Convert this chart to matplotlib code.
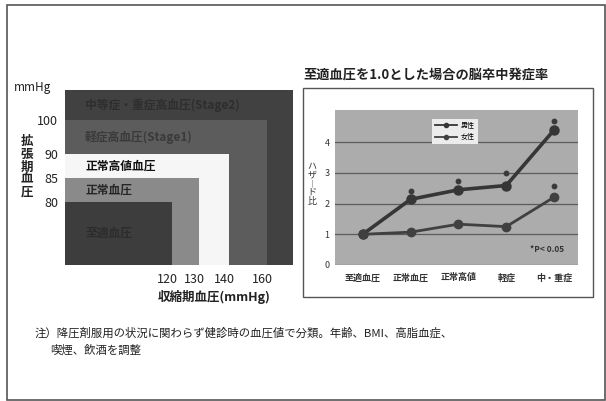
import matplotlib
matplotlib.use('Agg')
import matplotlib.pyplot as plt
from matplotlib.patches import Rectangle
from matplotlib.transforms import ScaledTranslation
import numpy as np

plt.rcParams['font.family'] = ['Noto Sans CJK JP', 'DejaVu Sans']

# ---------------- data: left panel (BP classification) ----------------
band_labels = ['至適血圧', '正常血圧', '正常高値血圧', '軽症高血圧(Stage1)', '中等症・重症高血圧(Stage2)']
sbp_upper = [120, 130, 140, 160]   # systolic upper limit of bands 1-4
dbp_upper = [80, 85, 90, 100]      # diastolic upper limit of bands 1-4
sbp_ticks = [120, 130, 140, 160]
dbp_ticks = [80, 85, 90, 100]

# ---------------- data: right panel (hazard ratios) ----------------
categories = ['至適血圧', '正常血圧', '正常高値', '軽症', '中・重症']
male_hr = [1.0, 2.14, 2.45, 2.59, 4.40]
female_hr = [1.0, 1.07, 1.33, 1.25, 2.21]
male_sig = [np.nan, 2.42, 2.75, 3.00, 4.69]
female_sig = [np.nan, np.nan, np.nan, np.nan, 2.59]
hr_ticks = [0, 1, 2, 3, 4]
series_names = ['男性', '女性']

W, H = 606, 401
fig = plt.figure(figsize=(W / 100, H / 100), dpi=100)
fig.patch.set_facecolor('white')

def fx(px):
    return px / W

def fy(py):
    return 1 - py / H

# outer frame
fig.add_artist(Rectangle((fx(7), fy(400)), fx(598), 395 / H, transform=fig.transFigure,
                         fill=False, edgecolor='#555555', lw=1.2, zorder=-2))

# ---------------- left panel ----------------
axL = fig.add_axes([fx(65), fy(265), fx(228), 175 / H])
xmin, xmax = 75, 170.5
ymin, ymax = 64, 106.8
# schematic (non-proportional) axes of the original diagram
sx_knots_v = np.array([xmin, 120, 130, 140, 160, xmax])
sx_knots_p = np.array([0, 107, 134, 164, 202, 228]) / 228
sy_knots_v = np.array([ymin, 80, 85, 90, 100, ymax])
sy_knots_p = np.array([0, 63, 87, 111, 145, 175]) / 175
axL.set_xscale('function', functions=(lambda v: np.interp(v, sx_knots_v, sx_knots_p, left=-1, right=2),
                                      lambda p: np.interp(p, sx_knots_p, sx_knots_v)))
axL.set_yscale('function', functions=(lambda v: np.interp(v, sy_knots_v, sy_knots_p, left=-1, right=2),
                                      lambda p: np.interp(p, sy_knots_p, sy_knots_v)))
axL.set_xlim(xmin, xmax)
axL.set_ylim(ymin, ymax)
band_colors = ['#3d3d3d', '#8a8a8a', '#f6f6f6', '#5c5c5c']
outer_color = '#414141'
axL.set_facecolor(outer_color)
for i in range(len(sbp_upper) - 1, -1, -1):
    axL.add_patch(Rectangle((xmin, ymin), sbp_upper[i] - xmin, dbp_upper[i] - ymin,
                            facecolor=band_colors[i], edgecolor='none'))
text_colors = ['#2c2c2c', '#262626', '#111111', '#3a3a3a', '#2e2e2e']
lower_edges = [ymin] + dbp_upper
upper_edges = dbp_upper + [ymax]
for i, lab in enumerate(band_labels):
    p = (np.interp(lower_edges[i], sy_knots_v, sy_knots_p) + np.interp(upper_edges[i], sy_knots_v, sy_knots_p)) / 2
    axL.text(0.088, p, lab, transform=axL.transAxes, ha='left', va='center',
             fontsize=8.5, fontweight='bold', color=text_colors[i])
for s in axL.spines.values():
    s.set_visible(False)
axL.set_xticks(sbp_ticks)
axL.set_xticklabels([str(v) for v in sbp_ticks])
axL.set_yticks(dbp_ticks)
axL.set_yticklabels([str(v) for v in dbp_ticks])
axL.tick_params(axis='both', length=0, labelsize=9, colors='#222222')
axL.tick_params(axis='x', pad=6)
axL.tick_params(axis='y', pad=5)
shift = ScaledTranslation(-5 / 100, 0, fig.dpi_scale_trans)
for lab in axL.get_xticklabels():
    lab.set_transform(lab.get_transform() + shift)
axL.xaxis.set_minor_locator(matplotlib.ticker.NullLocator())
axL.yaxis.set_minor_locator(matplotlib.ticker.NullLocator())

fig.text(fx(14), fy(87), 'mmHg', ha='left', va='center', fontsize=8.5, color='#222222')
fig.text(fx(27), fy(167), '拡\n張\n期\n血\n圧', ha='center', va='center', fontsize=9,
         fontweight='bold', linespacing=0.95, color='#222222')
fig.text(fx(214), fy(297), '収縮期血圧(mmHg)', ha='center', va='center', fontsize=9,
         fontweight='bold', color='#222222')

# ---------------- right panel ----------------
fig.text(fx(303), fy(75), '至適血圧を1.0とした場合の脳卒中発症率', ha='left', va='center',
         fontsize=9.5, fontweight='bold', color='#222222')
fig.add_artist(Rectangle((fx(303), fy(297)), fx(290), 209 / H, transform=fig.transFigure,
                         facecolor='white', edgecolor='#555555', lw=1.0, zorder=-1))

axR = fig.add_axes([fx(335), fy(265), fx(243), 155 / H])
axR.set_facecolor('#acacac')
x = np.arange(len(categories))
axR.set_xlim(-0.58, 4.5)
axR.set_ylim(0, 5.05)
axR.set_yticks(hr_ticks)
axR.set_yticklabels([str(v) for v in hr_ticks])
axR.yaxis.grid(True, color='#5c5c5c', lw=0.9)
axR.set_axisbelow(True)
for s in axR.spines.values():
    s.set_visible(False)
axR.set_xticks(x)
axR.set_xticklabels(categories)
axR.tick_params(axis='both', length=0, labelsize=6.5, colors='#333333')
axR.tick_params(axis='x', pad=6)
axR.tick_params(axis='y', pad=4)
for lab in axR.get_xticklabels():
    lab.set_fontweight('bold')

axR.plot(x, male_hr, color='#363636', lw=2.6, marker='o', ms=6.5, label=series_names[0], zorder=3)
axR.plot(x, female_hr, color='#404040', lw=2.0, marker='o', ms=6, label=series_names[1], zorder=3)
axR.plot(x, male_sig, ls='none', marker='o', ms=3.2, color='#3a3a3a', zorder=3)
axR.plot(x, female_sig, ls='none', marker='o', ms=3.2, color='#3a3a3a', zorder=3)

leg = axR.legend(loc='upper center', bbox_to_anchor=(0.494, 0.965), fontsize=5, frameon=True,
                 fancybox=False, handlelength=3.2, handletextpad=0.5, borderpad=0.4,
                 labelspacing=0.5)
leg.get_frame().set_facecolor('#ececec')
leg.get_frame().set_edgecolor('none')
leg.get_frame().set_alpha(1)
for h in leg.legend_handles:
    h.set_markersize(3)
    h.set_linewidth(1.3)

axR.text(0.872, 0.10, '*P< 0.05', transform=axR.transAxes, ha='center', va='center',
         fontsize=6, fontweight='bold', color='#333333')

fig.text(fx(312), fy(184), 'ハ\nザ\n︱\nド\n比', ha='center', va='center', fontsize=6.5,
         linespacing=0.95, color='#333333')

# ---------------- note ----------------
fig.text(fx(35), fy(333), '注）降圧剤服用の状況に関わらず健診時の血圧値で分類。年齢、BMI、高脂血症、',
         ha='left', va='center', fontsize=8.2, color='#222222')
fig.text(fx(50), fy(350), '喫煙、飲酒を調整', ha='left', va='center', fontsize=8.2, color='#222222')

fig.savefig('out.png', dpi=100)
